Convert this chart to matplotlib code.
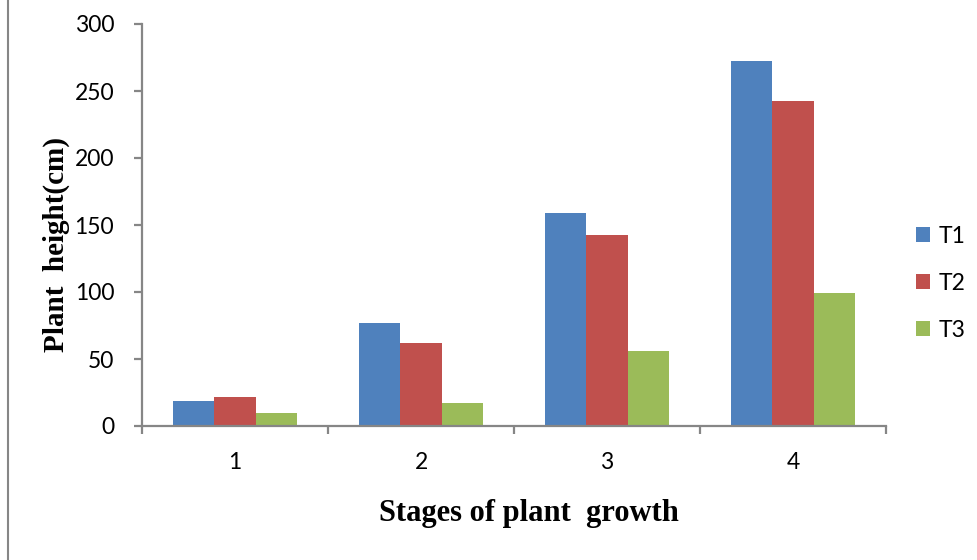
import matplotlib.pyplot as plt
import numpy as np
from matplotlib.lines import Line2D

# growth stages and plant height for each treatment
stages = ["1", "2", "3", "4"]
t1 = [18.7, 77, 159, 272.4]
t2 = [21.6, 62, 142.5, 242.5]
t3 = [9.7, 17.1, 56, 99.3]
series_names = ["T1", "T2", "T3"]
colors = ["#4F81BD", "#C0504D", "#9BBB59"]

fig = plt.figure(figsize=(9.77, 5.6), dpi=100)
ax = fig.add_axes([142 / 977, 1 - 426 / 560, 744 / 977, 402 / 560])

x = np.arange(len(stages))
w = 1 / 4.5
for i, (vals, name, c) in enumerate(zip([t1, t2, t3], series_names, colors)):
    ax.bar(x + (i - 1) * w, vals, width=w, color=c, label=name)

ax.set_xlim(-0.5, len(stages) - 0.5)
ax.set_ylim(0, 300)
ax.set_yticks(range(0, 301, 50))
ax.set_xticks(x)
ax.set_xticklabels(stages)
ax.set_xticks(np.arange(-0.5, len(stages)), minor=True)

gray = "#868686"
for s in ["top", "right"]:
    ax.spines[s].set_visible(False)
for s in ["left", "bottom"]:
    ax.spines[s].set_color(gray)
    ax.spines[s].set_linewidth(1.6)

ax.tick_params(axis="y", colors=gray, length=6, width=1.6, labelcolor="black",
               labelsize=16.5, pad=14)
ax.tick_params(axis="x", which="major", length=0, labelsize=16.5, pad=19)
ax.tick_params(axis="x", which="minor", colors=gray, length=6, width=1.6)
for lab in ax.get_xticklabels() + ax.get_yticklabels():
    lab.set_fontfamily("Lato")

# axis titles
fig.text(529 / 977, 1 - 514 / 560, "Stages of plant  growth",
         family="Liberation Serif", fontweight="bold", fontsize=22,
         ha="center", va="center")
fig.text(56 / 977, 1 - 245 / 560, "Plant  height(cm)",
         family="Liberation Serif", fontweight="bold", fontsize=21,
         ha="center", va="center", rotation=90)

leg = fig.legend(loc="upper left", bbox_to_anchor=(895 / 977, 1 - 205 / 560),
                 frameon=False, prop={"family": "Lato", "size": 16.5},
                 handlelength=0.62, handleheight=0.62, handletextpad=0.4,
                 labelspacing=1.14)

# thin gray frame line along the left edge
fig.add_artist(Line2D([8 / 977, 8 / 977], [0, 1], color=gray, lw=1.5))

fig.savefig("out.png", dpi=100)
